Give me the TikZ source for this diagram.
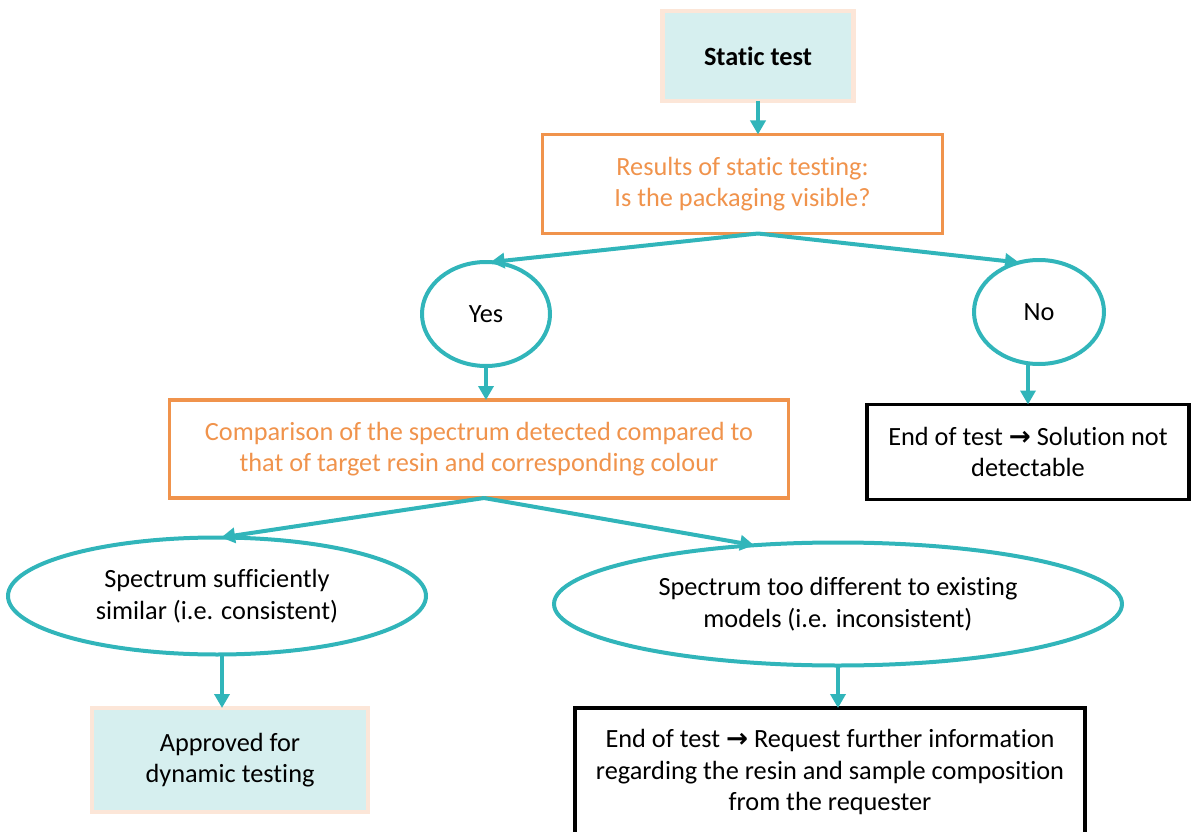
\documentclass[tikz,border=0pt]{standalone}
\usepackage{fontspec}
\setmainfont{Carlito}[Ligatures={NoCommon}]
\newfontfamily\arrowfont{DejaVu Sans}
\usetikzlibrary{arrows.meta,shapes.geometric,calc}
\definecolor{teal1}{HTML}{31B5BA}
\definecolor{orange1}{HTML}{F0934C}
\definecolor{peach}{HTML}{FCE6D8}
\definecolor{cyanfill}{HTML}{D6EFEF}
\newcommand{\rarr}{{\arrowfont\bfseries →}}
\begin{document}
\begin{tikzpicture}[x=1pt,y=-1pt,
  every node/.style={font=\fontsize{26.3}{31.5}\selectfont, align=center, inner sep=0pt, outer sep=0pt},
  startbox/.style={rectangle, draw=peach, line width=4.5pt, fill=cyanfill},
  qbox/.style={rectangle, draw=orange1, line width=3.5pt, text=orange1},
  endbox/.style={rectangle, draw=black, line width=3.5pt},
  oval/.style={ellipse, draw=teal1, line width=4pt},
  conn/.style={draw=teal1, line width=4pt, -{Triangle[length=14pt,width=15pt]}}
]
\useasboundingbox (0,0) rectangle (1192,832);
\node[startbox, minimum width=191pt, minimum height=90pt] (start) at (758,56) {\bfseries Static test};
\node[qbox, minimum width=400pt, minimum height=99pt] (res) at (742.5,184) {Results of static testing:\\Is the packaging visible?};
\node[oval, minimum width=128pt, minimum height=104pt] (yes) at (486,314) {Yes};
\node[oval, minimum width=130pt, minimum height=104pt] (no) at (1039,312) {No};
\node[qbox, minimum width=619pt, minimum height=98pt] (cmp) at (479,449) {Comparison of the spectrum detected compared to\\that of target resin and corresponding colour};
\node[endbox, minimum width=322pt, minimum height=95pt] (end1) at (1028,452) {End of test \rarr{} Solution not\\detectable};
\node[oval, minimum width=418pt, minimum height=117pt] (sim) at (217,596) {Spectrum sufficiently\\similar (i.e. consistent)};
\node[oval, minimum width=568pt, minimum height=123pt] (diff) at (838,604) {Spectrum too different to existing\\models (i.e. inconsistent)};
\node[startbox, minimum width=276pt, minimum height=104pt] (appr) at (230,760) {Approved for\\dynamic testing};
\node[endbox, minimum width=510pt, minimum height=128pt] (req) at (830,772) {End of test \rarr{} Request further information\\regarding the resin and sample composition\\from the requester};
\coordinate (rs) at (start.south |- res.south);
\draw[conn] (start.south) -- (start.south |- res.north);
\draw[conn] (rs) -- (yes.85);
\draw[conn] (rs) -- (no.112);
\draw[conn] (yes.south) -- (yes.south |- cmp.north);
\draw[conn] (no.south -| end1.north) -- (end1.north);
\draw[conn] ($(cmp.south)+(5,0)$) -- (sim.86);
\draw[conn] ($(cmp.south)+(5,0)$) -- (diff.145);
\draw[conn] ($(sim.south)+(5,0)$) -- ($(sim.south |- appr.north)+(5,0)$);
\draw[conn] (diff.south) -- (diff.south |- req.north);
\end{tikzpicture}
\end{document}
